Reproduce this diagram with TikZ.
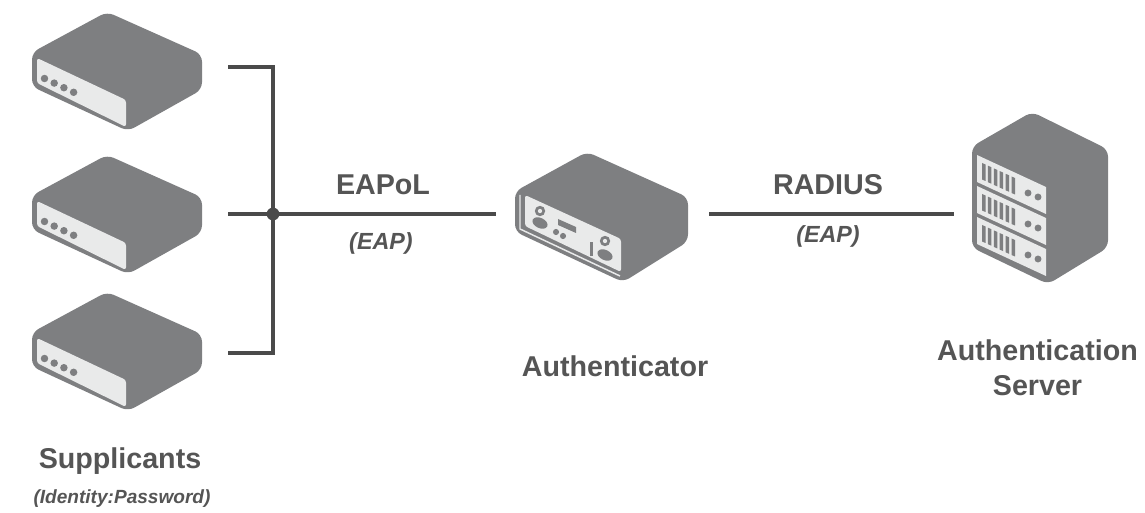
\documentclass[tikz,border=0pt]{standalone}
\usepackage{fontspec}
\setmainfont{Liberation Sans}
\definecolor{body}{HTML}{7E7F81}
\definecolor{face}{HTML}{E9EAEA}
\definecolor{wire}{HTML}{4A4A4A}
\definecolor{txt}{HTML}{555555}
\newcommand{\labfont}{\fontsize{21.5}{26}\selectfont\bfseries}
\newcommand{\subfont}{\fontsize{17.5}{20}\selectfont\bfseries\itshape}
\newcommand{\idfont}{\fontsize{14.3}{20}\selectfont\bfseries\itshape}
\tikzset{
  x=0.75pt,y=-0.75pt,
  wireline/.style={draw=wire,line width=3.7pt},
  shell/.style={fill=body,draw=body,line width=1.5pt,rounded corners=5pt,line join=round},
  panel/.style={fill=face,rounded corners=2pt},
  port/.style={fill=body},
  label/.style={text=txt,font=\labfont,align=center,inner sep=0pt},
  sublabel/.style={text=txt,font=\subfont,inner sep=0pt},
  idlabel/.style={text=txt,font=\idfont,inner sep=0pt},
  pics/supp/.style={code={
    \draw[shell] (74,0) -- (168,42) -- (168,76) -- (95,117) -- (0,73) -- (0,40) -- cycle;
    \fill[panel] (4,45) -- (93,87) -- (93,114) -- (4,70) -- cycle;
    \foreach \i in {0,1,2,3} \fill[port] (11.5+9.7*\i,65.5+4.6*\i) circle (2.8pt);
  }},
}
\begin{document}
\begin{tikzpicture}
\useasboundingbox (0,0) rectangle (1145,513);
\pic at (33,13) {supp};
\pic at (33,156) {supp};
\pic at (33,293) {supp};
% authenticator
\draw[shell] (587,153) -- (687,198) -- (687,241) -- (623,281) -- (516,231) -- (516,192) -- cycle;
\draw[face,line width=1.1pt,line join=round] (520,195) -- (520,229) -- (620,276);
\fill[panel] (525,195) -- (621,239) -- (621,272) -- (525,226) -- cycle;
\fill[port] (540,211) circle (3.9pt);
\fill[face] (540,211) circle (1.6pt);
\fill[port,rotate around={-25:(540,223)}] (540,223) ellipse (6pt and 3.8pt);
\fill[port] (558,219) -- (576,227) -- (576,233) -- (558,225) -- cycle;
\fill[port] (556,232) circle (2.3pt);
\fill[port] (563,236) circle (2.3pt);
\fill[port] (590,242) rectangle (593,256);
\fill[port] (605,241) circle (3.9pt);
\fill[face] (605,241) circle (1.6pt);
\fill[port,rotate around={-25:(605,255)}] (605,255) ellipse (6pt and 3.8pt);
% server
\draw[shell] (1032,113) -- (1107,150) -- (1107,247) -- (1048,283) -- (973,247) -- (973,147) -- cycle;
\foreach \dy in {0,31,62}{
  \begin{scope}[shift={(0,\dy)}]
  \fill[face] (977,155) -- (1046,187) -- (1046,214) -- (977,182) -- cycle;
  \foreach \px in {0,1,2,3,4,5}
    \fill[body] (982+5.9*\px,163+2.7*\px) -- (985.5+5.9*\px,164.5+2.7*\px) -- (985.5+5.9*\px,181+2.7*\px) -- (982+5.9*\px,179.5+2.7*\px) -- cycle;
  \fill[port] (1028,193) circle (2.6pt);
  \fill[port] (1038,197) circle (2.6pt);
  \end{scope}
}
% connectors
\coordinate (t0) at (228,67);
\coordinate (t1) at (273,67);
\coordinate (b1) at (273,353);
\coordinate (b0) at (228,353);
\coordinate (m0) at (228,214);
\coordinate (junction) at (273,214);
\coordinate (a0) at (496,214);
\coordinate (a1) at (709,214);
\coordinate (s0) at (954,214);
\draw[wireline,line join=miter] (t0) -- (t1) -- (b1) -- (b0);
\draw[wireline] (m0) -- (junction) -- (a0);
\draw[wireline] (a1) -- (s0);
\fill[wire] (junction) circle (4.8pt);
% labels
\node[label] (eapol) at (383,185) {EAPoL};
\node[sublabel] (eap1) at (381,243) {(EAP)};
\node[label] (radius) at (828,185) {RADIUS};
\node[sublabel] (eap2) at (828,236) {(EAP)};
\node[label] (auth) at (615,366) {Authenticator};
\node[label] (server) at (1037.5,368) {Authentication\\Server};
\node[label] (supp) at (120,461) {Supplicants};
\node[idlabel] (ident) at (122,499) {(Identity:Password)};
\end{tikzpicture}
\end{document}
